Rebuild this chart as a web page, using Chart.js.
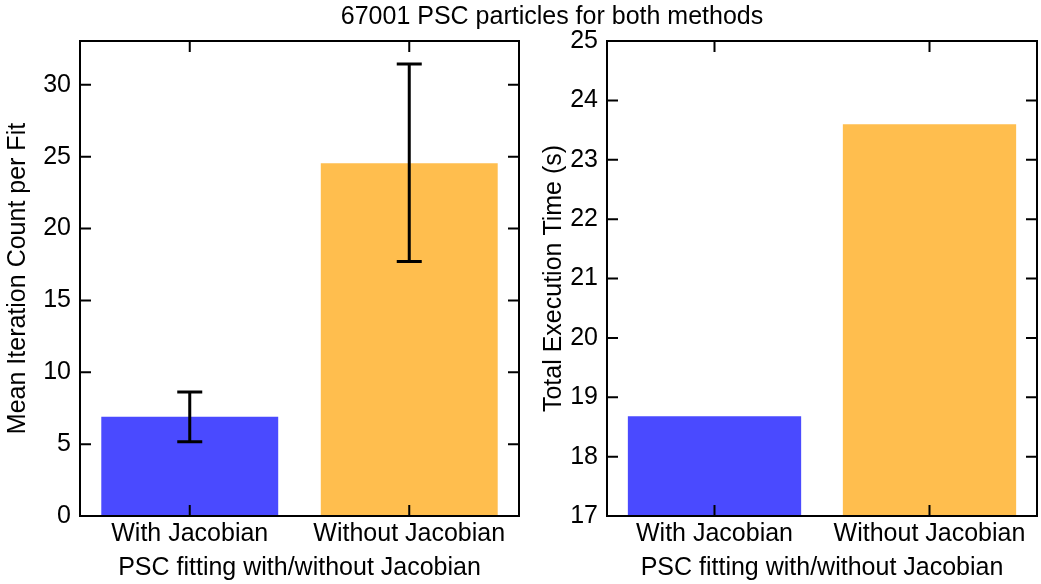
<!DOCTYPE html>
<html>
<head>
<meta charset="utf-8">
<script src="https://cdn.jsdelivr.net/npm/chart.js@4/dist/chart.umd.min.js"></script>
<style>
  body { margin: 0; background: #fff; }
  #wrap { position: relative; width: 1041px; height: 584px; overflow: hidden; }
  #title { position: absolute; top: 1px; left: 0; width: 1104px; text-align: center;
           font-family: "Liberation Sans", Arial, sans-serif; font-size: 25px; color: #000; }
  #c1 { position: absolute; left: 0; top: 0; }
  #c2 { position: absolute; left: 530px; top: 0; }
</style>
</head>
<body>
<div id="wrap">
  <canvas id="c1" width="530" height="584"></canvas>
  <canvas id="c2" width="511" height="584"></canvas>
  <div id="title">67001 PSC particles for both methods</div>
</div>
<script>
// data
const methods = ["With Jacobian", "Without Jacobian"];
const meanIterations = [6.9, 24.55];
const iterErrLow = [5.17, 17.7];
const iterErrHigh = [8.63, 31.45];
const execTimes = [18.68, 23.6];
const barColors = ["#4a4aff", "#ffbe4e"];

Chart.defaults.font.family = '"Liberation Sans", Arial, sans-serif';
Chart.defaults.color = "#000";

// box round the plot with inward ticks on all sides
const framePlugin = {
  id: "frame",
  afterDraw(chart) {
    const { ctx, chartArea: a, scales } = chart;
    const len = 11;
    ctx.save();
    ctx.strokeStyle = "#000";
    ctx.lineWidth = 2;
    ctx.strokeRect(a.left, a.top, a.right - a.left, a.bottom - a.top);
    ctx.beginPath();
    scales.y.ticks.forEach((t) => {
      const py = scales.y.getPixelForValue(t.value);
      ctx.moveTo(a.left, py); ctx.lineTo(a.left + len, py);
      ctx.moveTo(a.right, py); ctx.lineTo(a.right - len, py);
    });
    scales.x.ticks.forEach((t, i) => {
      const px = scales.x.getPixelForTick(i);
      ctx.moveTo(px, a.bottom); ctx.lineTo(px, a.bottom - len);
      ctx.moveTo(px, a.top); ctx.lineTo(px, a.top + len);
    });
    ctx.stroke();
    ctx.restore();
  }
};

// error bars from the named arrays
const errorBarPlugin = {
  id: "errbars",
  afterDatasetsDraw(chart, args, opts) {
    if (!opts.low) return;
    const { ctx, scales } = chart;
    ctx.save();
    ctx.strokeStyle = "#000";
    ctx.lineWidth = 3;
    ctx.beginPath();
    opts.low.forEach((lo, i) => {
      const px = scales.x.getPixelForValue(i);
      const y1 = scales.y.getPixelForValue(lo);
      const y2 = scales.y.getPixelForValue(opts.high[i]);
      ctx.moveTo(px, y1); ctx.lineTo(px, y2);
      ctx.moveTo(px - 12.5, y1); ctx.lineTo(px + 12.5, y1);
      ctx.moveTo(px - 12.5, y2); ctx.lineTo(px + 12.5, y2);
    });
    ctx.stroke();
    ctx.restore();
  }
};

const makeChart = (id, values, yTitle, yMin, yMax, yStep, axisW, padRight, tickPad, titlePad, errs) => {
  return new Chart(document.getElementById(id), {
    type: "bar",
    data: {
      labels: methods,
      datasets: [{
        data: values,
        backgroundColor: barColors,
        borderWidth: 0,
        barPercentage: 0.806,
        categoryPercentage: 1.0
      }]
    },
    options: {
      responsive: false,
      animation: false,
      layout: { padding: { top: 41, right: padRight, bottom: 0, left: 0 } },
      plugins: {
        legend: { display: false },
        tooltip: { enabled: false },
        errbars: errs || {}
      },
      scales: {
        x: {
          grid: { display: false, drawTicks: false },
          border: { display: false },
          ticks: { font: { size: 25 }, padding: 3, maxRotation: 0 },
          title: { display: true, text: "PSC fitting with/without Jacobian", font: { size: 25 }, padding: { top: 0, bottom: 1 } },
          afterFit: (s) => { s.height = 68; }
        },
        y: {
          min: yMin,
          max: yMax,
          grid: { display: false, drawTicks: false },
          border: { display: false },
          ticks: { stepSize: yStep, includeBounds: false, font: { size: 25 }, padding: tickPad },
          title: { display: true, text: yTitle, font: { size: 25 }, padding: { top: titlePad, bottom: 0 } },
          afterFit: (s) => { s.width = axisW; }
        }
      }
    },
    plugins: [framePlugin, errorBarPlugin]
  });
};

makeChart("c1", meanIterations, "Mean Iteration Count per Fit", 0, 33.05, 5, 80, 11, 9, 3.5,
  { low: iterErrLow, high: iterErrHigh });
makeChart("c2", execTimes, "Total Execution Time (s)", 17, 25, 1, 77, 4, 9, 9.5, null);
</script>
</body>
</html>
